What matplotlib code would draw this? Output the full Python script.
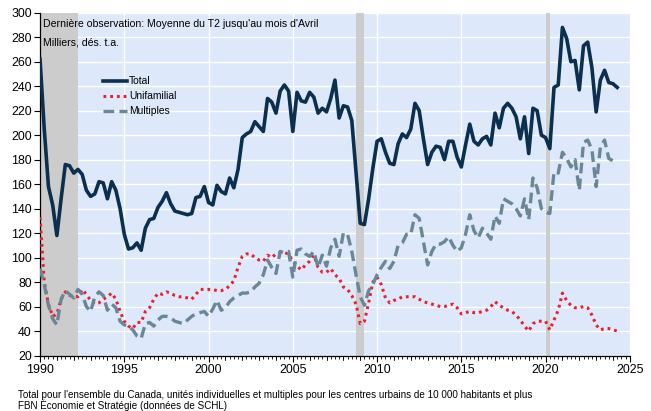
import matplotlib
matplotlib.use("Agg")
import matplotlib.pyplot as plt
from matplotlib.ticker import MultipleLocator
import numpy as np

plt.rcParams["font.family"] = ["Liberation Sans", "DejaVu Sans"]

# quarterly data, 1990 T1 -> 2024 T2 (milliers, dés. t.a.)
start_year = 1990
total = [
    262, 205, 158, 143, 118, 148, 176, 175, 169, 172, 168, 155,  # 1990-1992
    150, 152, 162, 161, 148, 162, 155, 140, 119, 107, 108, 112,  # 1993-1995
    106, 124, 131, 132, 141, 146, 153, 144, 138, 137, 136, 135,  # 1996-1998
    136, 149, 150, 158, 145, 143, 159, 154, 152, 165, 157, 172,  # 1999-2001
    198, 201, 203, 211, 207, 203, 230, 227, 218, 236, 241, 236,  # 2002-2004
    203, 235, 228, 227, 235, 231, 218, 222, 219, 230, 245, 214,  # 2005-2007
    224, 223, 212, 170, 128, 127, 148, 173, 195, 197, 186, 177,  # 2008-2010
    176, 193, 201, 198, 205, 226, 220, 197, 176, 186, 191, 190,  # 2011-2013
    180, 195, 195, 182, 174, 192, 209, 195, 192, 197, 199, 192,  # 2014-2016
    218, 206, 222, 226, 222, 215, 197, 215, 185, 222, 220, 200,  # 2017-2019
    198, 189, 239, 241, 288, 279, 260, 261, 237, 273, 276, 255,  # 2020-2022
    219, 245, 253, 243, 242, 239,                                # 2023-2024
]
unifamilial = [
    133, 80, 62, 52, 54, 66, 72, 69, 69, 68, 74, 70,
    65, 62, 63, 66, 68, 71, 66, 56, 48, 44, 42, 47,
    47, 56, 59, 66, 71, 70, 72, 71, 69, 68, 68, 67,
    66, 70, 74, 74, 74, 74, 73, 73, 74, 77, 81, 92,
    101, 103, 103, 100, 98, 97, 102, 100, 103, 104, 104, 103,
    97, 93, 90, 94, 97, 102, 92, 88, 88, 91, 86, 83,
    76, 74, 69, 62, 46, 48, 63, 80, 84, 78, 67, 63,
    65, 66, 68, 68, 68, 68, 66, 64, 63, 62, 61, 60,
    60, 61, 62, 59, 54, 55, 56, 55, 55, 56, 57, 60,
    64, 61, 59, 57, 56, 53, 49, 44, 40, 46, 48, 48,
    48, 41, 49, 57, 71, 65, 61, 59, 59, 60, 59, 53,
    45, 41, 42, 42, 41, 40,
]
multiples = [
    91, 78, 61, 50, 45, 66, 73, 70, 67, 74, 70, 60,
    56, 68, 72, 69, 57, 62, 59, 48, 45, 44, 41, 36,
    34, 46, 47, 44, 49, 52, 52, 51, 48, 47, 46, 49,
    52, 54, 55, 56, 52, 58, 65, 57, 59, 64, 67, 69,
    71, 71, 72, 76, 79, 86, 98, 92, 87, 105, 104, 105,
    84, 106, 107, 103, 101, 105, 92, 102, 93, 108, 115, 101,
    120, 119, 105, 86, 68, 61, 73, 78, 86, 92, 97, 91,
    97, 110, 112, 119, 119, 135, 132, 113, 94, 105, 111, 111,
    113, 117, 110, 105, 108, 119, 135, 122, 116, 124, 120, 115,
    134, 128, 148, 146, 144, 140, 134, 148, 131, 165, 157, 140,
    137, 136, 170, 169, 186, 181, 174, 180, 155, 194, 196, 188,
    158, 190, 196, 181, 179, 178,
]
recessions = [(1990.0, 1992.25), (2008.75, 2009.25), (2020.0, 2020.25)]

x = start_year + np.arange(len(total)) / 4

fig = plt.figure(figsize=(6.51, 4.11), dpi=100)
ax = fig.add_axes([0.0615, 0.135, 0.906, 0.834])
ax.set_facecolor("#dde9fa")

for a, b in recessions:
    ax.axvspan(a, b, color="#cccccc", lw=0, zorder=1)

ax.plot(x, total, color="#0b2f4e", lw=2.6, label="Total", zorder=4,
        solid_joinstyle="round")
ax.plot(x, unifamilial, color="#e8202a", lw=2.2, ls=(0, (0.9, 1.3)),
        label="Unifamilial", zorder=3)
ax.plot(x, multiples, color="#6a8797", lw=2.4, ls=(0, (3.2, 1.6)),
        label="Multiples", zorder=3)

ax.set_xlim(1990, 2025)
ax.set_ylim(20, 300)
ax.xaxis.set_major_locator(MultipleLocator(5))
ax.xaxis.set_minor_locator(MultipleLocator(0.25))
ax.yaxis.set_major_locator(MultipleLocator(20))
ax.grid(True, which="major", color="white", lw=1.0, zorder=0)
ax.set_axisbelow(True)

for s in ["top", "right"]:
    ax.spines[s].set_visible(False)
ax.spines["left"].set_linewidth(0.9)
ax.spines["bottom"].set_linewidth(0.9)
ax.tick_params(axis="both", which="major", labelsize=8.9, length=4, width=0.8,
               direction="out", pad=2)
ax.tick_params(axis="x", which="minor", length=2, width=0.6, direction="out")
ax.tick_params(axis="y", which="minor", left=False)

# yearly ticks slightly longer than quarterly ones
for yr in range(1990, 2026):
    ax.plot([yr, yr], [0, -0.012], transform=ax.get_xaxis_transform(),
            color="black", lw=0.6, clip_on=False)

ax.text(0.005, 0.983, "Dernière observation: Moyenne du T2 jusqu'au mois d'Avril",
        transform=ax.transAxes, fontsize=7.6, va="top", ha="left", zorder=6)
ax.text(0.005, 0.927, "Milliers, dés. t.a.",
        transform=ax.transAxes, fontsize=7.6, va="top", ha="left", zorder=6)

ax.legend(loc="upper left", bbox_to_anchor=(0.107, 0.815), frameon=False,
          fontsize=7.4, handlelength=2.3, handletextpad=0.2, labelspacing=0.5,
          borderaxespad=0, borderpad=0)

fig.text(0.028, 0.027, "Total pour l'ensemble du Canada, unités individuelles et multiples "
         "pour les centres urbains de 10 000 habitants et plus",
         fontsize=7.1, ha="left", va="bottom")
fig.text(0.028, 0.0, "FBN Économie et Stratégie (données de SCHL)",
         fontsize=7.1, ha="left", va="bottom")

fig.savefig("out.png", dpi=100, facecolor="white")
